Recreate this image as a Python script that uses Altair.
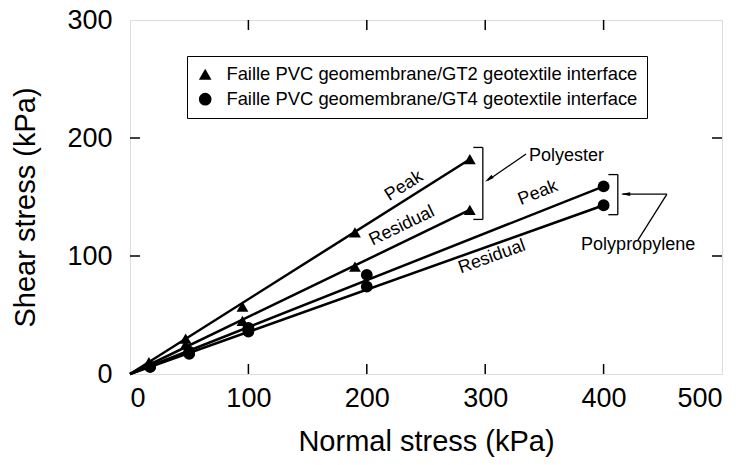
import altair as alt
import pandas as pd

# ---- data ----
gt2_x = [16, 47, 95, 190, 287]
gt2_peak = [10, 30, 57, 120, 182]
gt2_res = [8, 25, 45, 91, 139]
gt4_x = [17, 50, 100, 200, 400]
gt4_peak = [6, 19, 39, 84, 159]
gt4_res = [6, 17, 36, 74, 143]

series_names = [
    "Faille PVC geomembrane/GT2 geotextile interface",
    "Faille PVC geomembrane/GT4 geotextile interface",
]

x_ticks = [0, 100, 200, 300, 400, 500]
y_ticks = [0, 100, 200, 300]
inner_x_ticks = [100, 200, 300, 400]
inner_y_ticks = [100, 200]

# line labels (data coordinates, rotated along the lines)
lab_text = ["Peak", "Residual", "Peak", "Residual"]
lab_x = [231.4, 229.7, 344.6, 305.7]
lab_y = [159.3, 125.4, 153.4, 99.2]
lab_angle = [327.7, 334.2, 338.4, 340.4]

# material labels
mat_text = ["Polyester", "Polypropylene"]
mat_x = [337, 381]
mat_y = [185, 109]

# bracket / arrow segments (data coordinates)
seg_x = [298, 290, 290, 334.5, 412, 404, 404, 453.5, 453.5]
seg_y = [131, 192, 131, 186.4, 135, 169, 135, 152.5, 152.5]
seg_x2 = [298, 298, 298, 302, 412, 412, 412, 416, 429]
seg_y2 = [192, 192, 131, 164, 169, 169, 135, 152.5, 113.5]

head_x = [303.0, 418.5]
head_y = [165.2, 152.5]
head_angle = [235, 270]

# ---- tables ----
pts = pd.DataFrame(
    [{"x": x, "y": y, "series": series_names[0]} for x, y in zip(gt2_x, gt2_peak)]
    + [{"x": x, "y": y, "series": series_names[0]} for x, y in zip(gt2_x, gt2_res)]
    + [{"x": x, "y": y, "series": series_names[1]} for x, y in zip(gt4_x, gt4_peak)]
    + [{"x": x, "y": y, "series": series_names[1]} for x, y in zip(gt4_x, gt4_res)]
)

line_rows = []
for name, xs, ys in [("gt2p", gt2_x, gt2_peak), ("gt2r", gt2_x, gt2_res),
                     ("gt4p", gt4_x, gt4_peak), ("gt4r", gt4_x, gt4_res)]:
    line_rows.append({"x": 0, "y": 0, "line": name})
    line_rows.append({"x": xs[-1], "y": ys[-1], "line": name})
lines = pd.DataFrame(line_rows)

labels = pd.DataFrame({"t": lab_text, "x": lab_x, "y": lab_y, "a": lab_angle})
mats = pd.DataFrame({"t": mat_text, "x": mat_x, "y": mat_y})
segs = pd.DataFrame({"x": seg_x, "y": seg_y, "x2": seg_x2, "y2": seg_y2})
heads = pd.DataFrame({"x": head_x, "y": head_y, "a": head_angle})
xt = pd.DataFrame({"v": inner_x_ticks})
yt = pd.DataFrame({"v": inner_y_ticks})

W, H = 592, 354
FONT = "Liberation Sans"

xscale = alt.Scale(domain=[0, 500], nice=False, zero=True)
yscale = alt.Scale(domain=[0, 300], nice=False, zero=True)

xenc = alt.X("x:Q", scale=xscale, axis=alt.Axis(
    values=x_ticks, title="Normal stress (kPa)", grid=False, domain=False, ticks=False,
    tickSize=0, labelPadding=11, labelFontSize=27, labelFont=FONT, labelColor="black",
    titleFont=FONT, titleFontSize=29, titleFontWeight="normal", titleColor="black",
    titleX=296, titleY=67, titleBaseline="middle"))
yenc = alt.Y("y:Q", scale=yscale, axis=alt.Axis(
    values=y_ticks, title="Shear stress (kPa)", grid=False, domain=False, ticks=False,
    tickSize=0, labelPadding=18, labelFontSize=27, labelFont=FONT, labelColor="black",
    titleFont=FONT, titleFontSize=29, titleFontWeight="normal", titleColor="black",
    titleX=-105, titleY=187, titleBaseline="middle"))

line_layer = alt.Chart(lines).mark_line(color="black", strokeWidth=2.5).encode(
    x=xenc, y=yenc, detail="line:N")

pt_layer = alt.Chart(pts).mark_point(filled=True, color="black", opacity=1, size=140).encode(
    x=alt.X("x:Q", scale=xscale),
    y=alt.Y("y:Q", scale=yscale),
    shape=alt.Shape("series:N", scale=alt.Scale(domain=series_names, range=["triangle-up", "circle"]),
                    legend=alt.Legend(title=None, orient="none", legendX=57, legendY=36,
                                      padding=9, strokeColor="black", fillColor="white",
                                      labelFont=FONT, labelFontSize=18.4, labelColor="black",
                                      symbolSize=160, symbolFillColor="black",
                                      symbolStrokeColor="black", symbolOpacity=1,
                                      rowPadding=5, labelOffset=12, labelLimit=600)),
)

text_layer = alt.Chart(labels).mark_text(font=FONT, fontSize=18, color="black",
                                         baseline="middle", align="center").encode(
    x=alt.X("x:Q", scale=xscale),
    y=alt.Y("y:Q", scale=yscale),
    text="t:N",
    angle=alt.Angle("a:Q", scale=None),
)

mat_layer = alt.Chart(mats).mark_text(font=FONT, fontSize=18, color="black",
                                      baseline="middle", align="left").encode(
    x=alt.X("x:Q", scale=xscale),
    y=alt.Y("y:Q", scale=yscale),
    text="t:N",
)

seg_layer = alt.Chart(segs).mark_rule(color="black", strokeWidth=1.3).encode(
    x=alt.X("x:Q", scale=xscale), y=alt.Y("y:Q", scale=yscale),
    x2="x2:Q", y2="y2:Q")

head_layer = alt.Chart(heads).mark_point(
    shape="M0,-1L0.4,1L-0.4,1Z", filled=True, color="black", opacity=1, size=90).encode(
    x=alt.X("x:Q", scale=xscale), y=alt.Y("y:Q", scale=yscale),
    angle=alt.Angle("a:Q", scale=None))

tick_bottom = alt.Chart(xt).mark_rule(color="black", strokeWidth=1.5).encode(
    x=alt.X("v:Q", scale=xscale), y=alt.value(H), y2=alt.value(H - 10))
tick_top = alt.Chart(xt).mark_rule(color="black", strokeWidth=1.5).encode(
    x=alt.X("v:Q", scale=xscale), y=alt.value(0), y2=alt.value(10))
tick_left = alt.Chart(yt).mark_rule(color="black", strokeWidth=1.5).encode(
    y=alt.Y("v:Q", scale=yscale), x=alt.value(0), x2=alt.value(10))
tick_right = alt.Chart(yt).mark_rule(color="black", strokeWidth=1.5).encode(
    y=alt.Y("v:Q", scale=yscale), x=alt.value(W), x2=alt.value(W - 10))

chart = alt.layer(
    line_layer, pt_layer, text_layer, mat_layer, seg_layer, head_layer,
    tick_bottom, tick_top, tick_left, tick_right,
).properties(
    width=W, height=H,
    autosize=alt.AutoSizeParams(type="none"),
    padding={"left": 122, "top": 12, "right": 14, "bottom": 83},
).configure_view(
    stroke="black", strokeWidth=2
).configure(background="white")

chart.save("out.html", embed_options={"renderer": "svg", "actions": False})
